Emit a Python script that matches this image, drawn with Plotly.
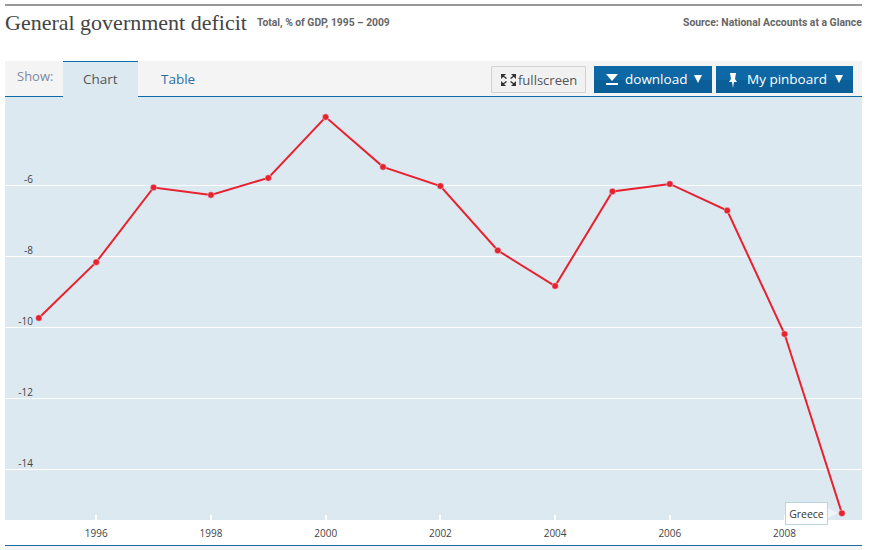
import plotly.graph_objects as go

years = list(range(1995, 2010))
deficit = [-9.74, -8.17, -6.07, -6.28, -5.80, -4.09, -5.49, -6.03, -7.84, -8.84, -6.18, -5.97, -6.72, -10.19, -15.23]
series_name = "Greece"
y_ticks = [-14, -12, -10, -8, -6]
x_ticks = [1996, 1998, 2000, 2002, 2004, 2006, 2008]

W, H = 870, 550
L, R, T, B = 5, 862, 97, 520
SANS = "Open Sans"


def px(x):
    return (x - L) / (R - L)


def py(y):
    return (B - y) / (B - T)


def rect(x0, y0, x1, y1, fill, line=None, lw=0):
    return dict(type="rect", xref="paper", yref="paper", x0=px(x0), x1=px(x1), y0=py(y0), y1=py(y1),
                fillcolor=fill, line=dict(color=line or fill, width=lw), layer="above")


def path(points, fill):
    d = "M" + " L".join(f"{px(a):.5f},{py(b):.5f}" for a, b in points) + " Z"
    return dict(type="path", xref="paper", yref="paper", path=d, fillcolor=fill, line=dict(width=0), layer="above")


def stroke(x0, y0, x1, y1, color, lw):
    return dict(type="line", xref="paper", yref="paper", x0=px(x0), x1=px(x1), y0=py(y0), y1=py(y1),
                line=dict(color=color, width=lw), layer="above")


def text(x, y, s, size, color, anchor="left", family=SANS):
    return dict(xref="paper", yref="paper", x=px(x), y=py(y), text=s, showarrow=False, xanchor=anchor,
                yanchor="middle", font=dict(family=family, size=size, color=color))


shapes = [
    rect(5, 4, 862, 6, "#999999"),
    rect(5, 61, 862, 96, "#f4f4f4"),
    rect(5, 96, 862, 97, "#0f6cab"),
    rect(63, 61, 138, 97, "#dde9f1"),
    rect(63, 61, 138, 62, "#0f6cab"),
    rect(491.5, 66.5, 585.5, 92.5, "#f1f1f1", "#d2d2d2", 1),
    rect(594, 66, 712, 93, "#0e68a5"),
    rect(594, 80, 712, 93, "#0b5f98"),
    rect(716, 66, 853, 93, "#0e68a5"),
    rect(716, 80, 853, 93, "#0b5f98"),
    rect(5, 545, 862, 546, "#1f6a9f"),
    rect(5, 546, 862, 550, "#f4f4f4"),
    # fullscreen icon
    path([(501, 74), (506, 74), (501, 79)], "#333333"),
    path([(516, 74), (511, 74), (516, 79)], "#333333"),
    path([(501, 86), (506, 86), (501, 81)], "#333333"),
    path([(516, 86), (511, 86), (516, 81)], "#333333"),
    stroke(503, 76, 506.5, 78.5, "#333333", 1.5),
    stroke(514, 76, 510.5, 78.5, "#333333", 1.5),
    stroke(503, 84, 506.5, 81.5, "#333333", 1.5),
    stroke(514, 84, 510.5, 81.5, "#333333", 1.5),
    # download icon
    path([(606, 74), (618, 74), (612, 81)], "#ffffff"),
    rect(606, 83, 618, 85, "#ffffff"),
    # dropdown carets
    path([(694, 75), (702, 75), (698, 83)], "#ffffff"),
    path([(835, 75), (843, 75), (839, 83)], "#ffffff"),
    # pin icon
    path([(730, 73), (736, 73), (735, 79), (737, 82), (734, 82), (733, 88), (732, 82), (729, 82), (731, 79)], "#ffffff"),
    # tooltip arrow
    path([(828, 508), (838, 513), (828, 518)], "#eef4f8"),
]

annotations = [
    text(3, 23, "General government deficit", 22, "#444444", family="Liberation Serif"),
    text(255, 23, "<b>Total, % of GDP, 1995 – 2009</b>", 10.3, "#666666", family="Roboto"),
    text(864, 23, "<b>Source: National Accounts at a Glance</b>", 10.4, "#666666", "right", family="Roboto"),
    text(15, 76, "Show:", 13, "#7f8aa0"),
    text(100.5, 79, "Chart", 13.5, "#555555", "center"),
    text(178, 79, "Table", 13.5, "#2a6fa8", "center"),
    text(516, 79.5, "fullscreen", 13, "#555555"),
    text(623, 79, "download", 13.5, "#ffffff"),
    text(745, 79, "My pinboard", 13.5, "#ffffff"),
    dict(xref="paper", yref="paper", x=px(806.5), y=py(513), text=series_name, showarrow=False,
         font=dict(family=SANS, size=10.5, color="#333333"), bgcolor="#ffffff", bordercolor="#bcd3e4",
         borderwidth=1, width=41, height=21, borderpad=0, xanchor="center", yanchor="middle"),
]

fig = go.Figure(go.Scatter(
    x=years, y=deficit, mode="lines+markers", name=series_name,
    line=dict(color="#e8212e", width=2),
    marker=dict(color="#e8212e", size=6.5, line=dict(color="#dde9f1", width=0.5)),
    cliponaxis=False,
))

fig.update_layout(
    width=W, height=H, autosize=False,
    margin=dict(l=L, r=W - R, t=T, b=H - B, pad=0),
    paper_bgcolor="#ffffff", plot_bgcolor="#dde9f1", showlegend=False,
    shapes=shapes, annotations=annotations,
    font=dict(family=SANS, size=10, color="#444444"),
    xaxis=dict(range=[1994.41, 2009.35], tickmode="array", tickvals=x_ticks, ticktext=[str(v) for v in x_ticks],
               showgrid=False, zeroline=False, showline=False, ticks="inside", ticklen=5, tickwidth=2,
               tickcolor="#ffffff", tickfont=dict(size=10, color="#444444"), ticklabelstandoff=6),
    yaxis=dict(range=[-15.42, -3.525], tickmode="array", tickvals=y_ticks, ticktext=[str(v) for v in y_ticks],
               showgrid=True, gridcolor="#ffffff", gridwidth=1, zeroline=False, showline=False, ticks="",
               tickfont=dict(size=10, color="#444444"), ticklabelshift=-6, ticklabelstandoff=-29),
)

fig.write_html("out.html", config={"displayModeBar": False},
               post_script="document.body.style.margin='0';document.body.style.overflow='hidden';")
